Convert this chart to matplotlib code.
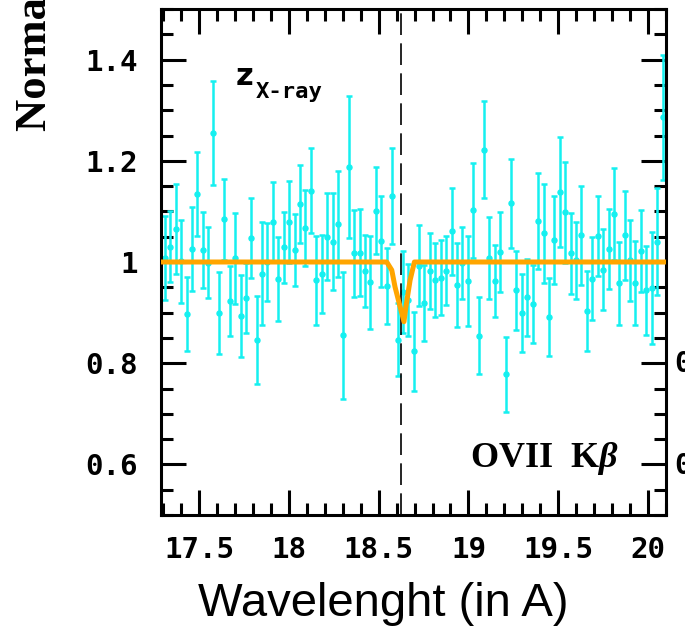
import matplotlib
matplotlib.use("Agg")
import matplotlib.pyplot as plt
from matplotlib.ticker import MultipleLocator, FuncFormatter

plt.rcParams['mathtext.fontset'] = 'custom'
plt.rcParams['mathtext.rm'] = 'Liberation Serif:bold'
plt.rcParams['mathtext.it'] = 'Liberation Serif:italic:bold'

# binned spectrum (wavelength in A, normalized flux, 1-sigma error)
wave = [17.309, 17.339, 17.369, 17.399, 17.430, 17.460, 17.490, 17.520, 17.550, 17.580,
        17.610, 17.640, 17.671, 17.701, 17.731, 17.761, 17.791, 17.821, 17.851, 17.881,
        17.912, 17.942, 17.972, 18.002, 18.032, 18.062, 18.092, 18.122, 18.153, 18.183,
        18.213, 18.243, 18.273, 18.303, 18.333, 18.364, 18.394, 18.424, 18.454, 18.484,
        18.514, 18.544, 18.574, 18.605, 18.635, 18.665, 18.695, 18.725, 18.755, 18.785,
        18.815, 18.846, 18.876, 18.906, 18.936, 18.966, 18.996, 19.026, 19.056, 19.087,
        19.117, 19.147, 19.177, 19.207, 19.237, 19.267, 19.298, 19.328, 19.358, 19.388,
        19.418, 19.448, 19.478, 19.508, 19.539, 19.569, 19.599, 19.629, 19.659, 19.689,
        19.719, 19.750, 19.780, 19.810, 19.840, 19.870, 19.900, 19.930, 19.960, 19.991,
        20.021, 20.051, 20.081]
flux = [1.008, 1.030, 1.065, 1.001, 0.898, 1.026, 1.135, 1.024, 0.999, 1.255,
        0.900, 1.084, 0.923, 1.007, 0.894, 0.929, 1.047, 0.846, 0.977, 1.000,
        1.079, 0.966, 1.029, 1.080, 1.023, 1.114, 1.068, 1.141, 0.964, 0.977,
        1.050, 1.040, 1.075, 0.855, 1.188, 1.017, 1.018, 0.983, 0.960, 1.101,
        1.041, 0.952, 1.131, 0.846, 0.940, 0.925, 0.824, 0.993, 0.919, 0.983,
        0.964, 0.969, 0.983, 1.061, 0.954, 0.998, 0.962, 1.102, 0.854, 1.222,
        1.007, 0.962, 1.020, 0.778, 1.116, 0.944, 0.900, 0.930, 0.917, 1.081,
        1.057, 0.891, 1.044, 1.138, 1.098, 1.017, 1.003, 1.053, 0.904, 0.967,
        1.052, 0.985, 1.026, 1.095, 0.958, 1.053, 1.003, 0.959, 1.022, 0.944,
        0.949, 1.040, 1.286]
err = [0.083, 0.070, 0.089, 0.082, 0.073, 0.083, 0.083, 0.075, 0.071, 0.102,
       0.081, 0.080, 0.069, 0.090, 0.081, 0.069, 0.079, 0.087, 0.102, 0.077,
       0.079, 0.083, 0.070, 0.081, 0.071, 0.077, 0.075, 0.084, 0.088, 0.077,
       0.086, 0.096, 0.104, 0.125, 0.141, 0.086, 0.086, 0.071, 0.092, 0.086,
       0.090, 0.075, 0.095, 0.072, 0.081, 0.072, 0.078, 0.080, 0.075, 0.075,
       0.073, 0.074, 0.068, 0.086, 0.083, 0.072, 0.089, 0.094, 0.076, 0.096,
       0.081, 0.071, 0.079, 0.074, 0.088, 0.078, 0.077, 0.076, 0.077, 0.095,
       0.098, 0.077, 0.087, 0.109, 0.099, 0.080, 0.077, 0.098, 0.079, 0.082,
       0.079, 0.080, 0.079, 0.091, 0.082, 0.088, 0.080, 0.083, 0.081, 0.088,
       0.111, 0.106, 0.123]

# best-fit absorption model
model_wave = [17.20, 18.545, 18.573, 18.591, 18.619, 18.641, 18.652, 18.675, 18.699, 20.20]
model_flux = [1.0, 1.0, 0.984, 0.951, 0.912, 0.882, 0.912, 0.964, 1.0, 1.0]

line_center = 18.627

fig = plt.figure(figsize=(6.85, 6.33), dpi=100)
ax = fig.add_axes([161 / 685, 1 - 515 / 633, 505 / 685, 506 / 633])

ax.errorbar(wave, flux, yerr=err, fmt='o', color='#15F0F0', ms=3.6,
            elinewidth=1.8, capsize=2.4, capthick=1.8, zorder=2)
ax.axvline(line_center, color='black', lw=1.2, ls=(0, (13, 5)), zorder=3)
ax.plot(model_wave, model_flux, color='#FFA500', lw=3.6, zorder=4,
        solid_joinstyle='round')

ax.set_xlim(17.288, 20.10)
ax.set_ylim(0.5, 1.5)

ax.xaxis.set_major_locator(MultipleLocator(0.5))
ax.xaxis.set_minor_locator(MultipleLocator(0.1))
ax.yaxis.set_major_locator(MultipleLocator(0.2))
ax.yaxis.set_minor_locator(MultipleLocator(0.05))
ax.xaxis.set_major_formatter(FuncFormatter(lambda v, p: f"{v:g}"))
ax.yaxis.set_major_formatter(FuncFormatter(lambda v, p: f"{v:g}"))

ax.tick_params(which='both', direction='in', top=True, right=True, width=2.2,
               color='black')
ax.tick_params(which='major', length=18)
ax.tick_params(which='minor', length=8.5)
ax.tick_params(axis='y', which='major', pad=17)
ax.tick_params(axis='x', which='major', pad=15)
for lab in ax.get_xticklabels() + ax.get_yticklabels():
    lab.set_fontfamily('DejaVu Sans Mono')
    lab.set_fontweight('bold')
    lab.set_fontsize(21)
for sp in ax.spines.values():
    sp.set_linewidth(2.2)

ax.text(17.706, 1.350, "z", fontsize=22, fontweight='bold',
        family='DejaVu Sans', va='baseline')
ax.text(17.817, 1.325, "X-ray", fontsize=16, fontweight='bold',
        family='DejaVu Sans Mono', va='baseline')
ax.text(19.009, 0.594, r"OVII  K$\beta$", fontsize=26, fontweight='bold',
        family='Liberation Serif', va='baseline')

fig.text(383.5 / 685, 1 - 616 / 633, "Wavelenght (in A)", fontsize=34,
         family='Liberation Sans', ha='center', va='baseline')
fig.text(46 / 685, 1 - 131 / 633, "Normalized Flux", fontsize=32,
         family='Liberation Serif', fontweight='bold', rotation=90,
         rotation_mode='anchor', ha='left', va='baseline')

# tick labels of the neighbouring panel, cut by the figure edge
for val, ypix in [("0.8", 364), ("0.6", 466)]:
    fig.text(674 / 685, 1 - ypix / 633, val, fontsize=21, fontweight='bold',
             family='DejaVu Sans Mono', ha='left', va='center')

fig.savefig("out.png", dpi=100)
